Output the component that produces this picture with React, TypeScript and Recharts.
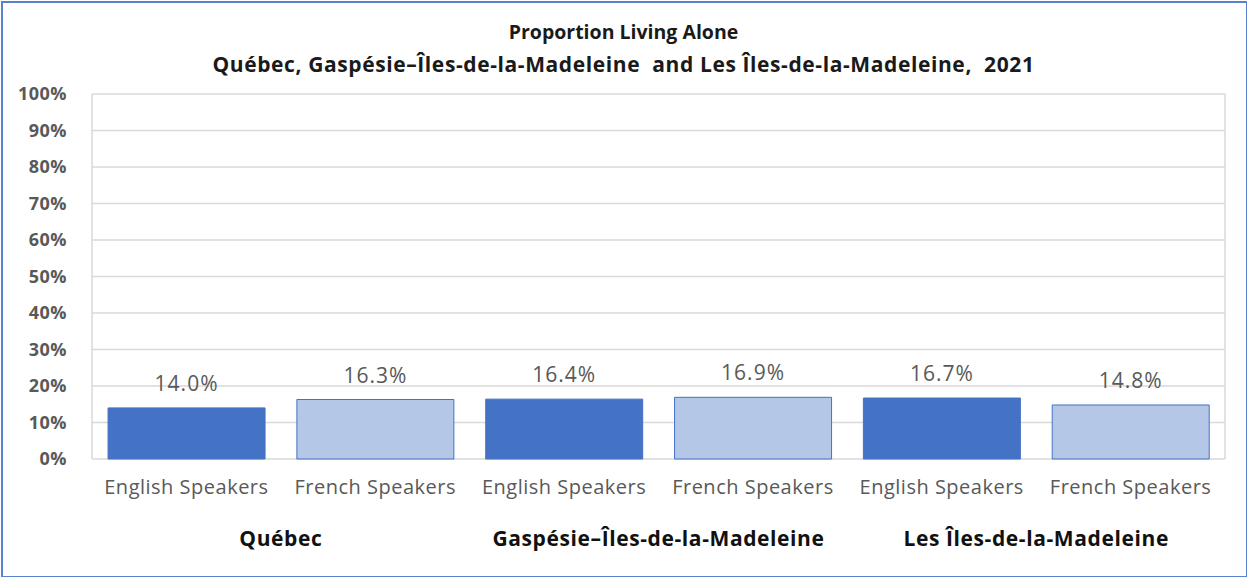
import React from 'react';
import { BarChart, Bar, XAxis, YAxis, CartesianGrid, Cell, LabelList } from 'recharts';

const speakers = ['English Speakers', 'French Speakers', 'English Speakers', 'French Speakers', 'English Speakers', 'French Speakers'];
const groups = ['Québec', 'Québec', 'Gaspésie–Îles-de-la-Madeleine', 'Gaspésie–Îles-de-la-Madeleine', 'Les Îles-de-la-Madeleine', 'Les Îles-de-la-Madeleine'];
const values = [14.0, 16.3, 16.4, 16.9, 16.7, 14.8];
const yTicks = [0, 10, 20, 30, 40, 50, 60, 70, 80, 90, 100];
const fills = ['#4472C4', '#B4C7E7', '#4472C4', '#B4C7E7', '#4472C4', '#B4C7E7'];
const titleLine1 = 'Proportion Living Alone';
const titleLine2 = 'Québec, Gaspésie–Îles-de-la-Madeleine\u00A0 and Les Îles-de-la-Madeleine,\u00A0 2021';

const data = speakers.map((s, i) => ({ speaker: s, group: groups[i], value: values[i] }));

const FONT = '"Open Sans", Lato, sans-serif';

const GroupTick = (props: any) => {
  const { x, y, payload } = props;
  const idx = props.index ?? payload.index;
  if (idx % 2 !== 0) return null;
  const off = payload.offset ?? 0;
  return (
    <text x={x + off} y={y} dy={29} textAnchor="middle" fontFamily={FONT} fontSize={21} fontWeight={700} letterSpacing={0.6} fill="#111">
      {payload.value}
    </text>
  );
};

export default function App() {
  return (
    <div style={{ position: 'absolute', left: 0, top: 0, width: 1247, height: 577, background: '#fff', fontFamily: FONT }}>
      <div style={{ position: 'absolute', left: 1, top: 1, width: 1243, height: 573, border: '2px solid #5a82cc', boxSizing: 'content-box' }} />
      <div style={{ position: 'absolute', left: 0, top: 15, width: 1247, textAlign: 'center', fontWeight: 700, color: '#1a1a1a', lineHeight: '33px' }}>
        <div style={{ fontSize: 19.5 }}>{titleLine1}</div>
        <div style={{ fontSize: 21, letterSpacing: 0.6 }}>{titleLine2}</div>
      </div>
      <div style={{ position: 'absolute', left: 0, top: 0 }}>
        <BarChart width={1247} height={577} data={data} margin={{ top: 94, right: 22, bottom: 0, left: 12 }} barCategoryGap="8.5%">
          <CartesianGrid
            stroke="#d9d9d9"
            strokeWidth={1.5}
            verticalCoordinatesGenerator={({ offset }: any) => [offset.left, offset.left + offset.width]}
          />
          <XAxis
            dataKey="speaker"
            axisLine={false}
            tickLine={false}
            tickMargin={15}
            height={50}
            interval={0}
            tick={{ fill: '#595959', fontSize: 20, letterSpacing: 0.5, fontFamily: FONT }}
          />
          <XAxis
            xAxisId="group"
            dataKey="group"
            axisLine={false}
            tickLine={false}
            height={68}
            interval={0}
            tick={<GroupTick />}
          />
          <YAxis
            domain={[0, 100]}
            ticks={yTicks}
            interval={0}
            width={80}
            axisLine={false}
            tickLine={false}
            tickMargin={19}
            tickFormatter={(v: number) => `${v}%`}
            tick={{ fill: '#595959', fontSize: 18, fontWeight: 700, letterSpacing: 0.5, fontFamily: FONT }}
          />
          <Bar dataKey="value" isAnimationActive={false} stroke="#4472C4" strokeWidth={1}>
            {data.map((d, i) => (
              <Cell key={i} fill={fills[i]} />
            ))}
            <LabelList
              dataKey="value"
              position="top"
              offset={17}
              formatter={(v: number) => `${v.toFixed(1)}%`}
              style={{ fill: '#595959', fontSize: 21, letterSpacing: 1, fontFamily: FONT }}
            />
          </Bar>
        </BarChart>
      </div>
    </div>
  );
}
